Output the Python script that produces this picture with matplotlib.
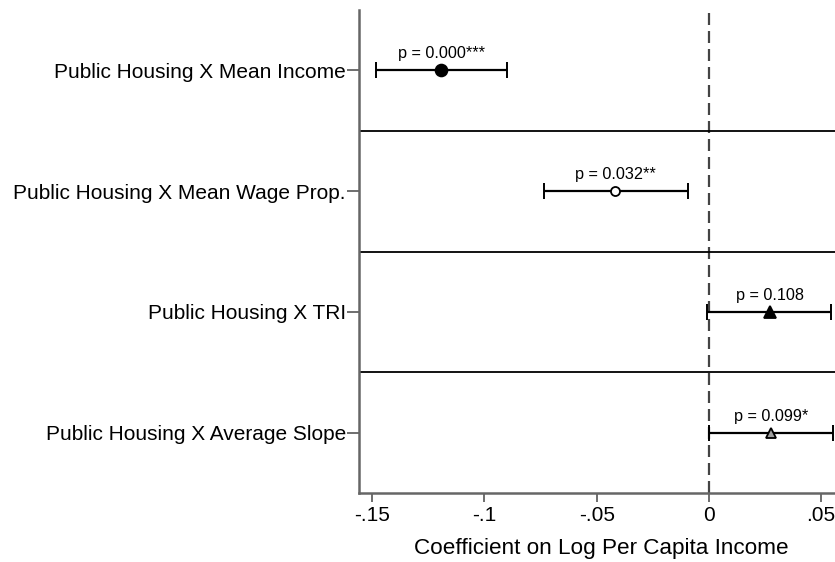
import matplotlib
matplotlib.use("Agg")
import matplotlib.pyplot as plt

# Interaction terms, point estimates and 90% confidence bounds
terms = ["Public Housing X Mean Income",
         "Public Housing X Mean Wage Prop.",
         "Public Housing X TRI",
         "Public Housing X Average Slope"]
coef = [-0.1193, -0.0416, 0.0273, 0.0277]
ci_low = [-0.1484, -0.0733, -0.0006, 0.0001]
ci_high = [-0.0901, -0.0095, 0.0546, 0.0555]
p_labels = ["p = 0.000***", "p = 0.032**", "p = 0.108", "p = 0.099*"]
xticks = [-0.15, -0.10, -0.05, 0.0, 0.05]
xtick_labels = ["-.15", "-.1", "-.05", "0", ".05"]

markers = ["o", "o", "^", "^"]
faces = ["black", "white", "black", "#a0a0a0"]
msizes = [8.5, 6.5, 8.5, 7.5]

plt.rcParams["font.family"] = ["Liberation Sans", "DejaVu Sans"]

W, H = 835, 562
fig = plt.figure(figsize=(W / 100, H / 100), dpi=100)
left_px, right_px, top_px, bottom_px = 359, 843, 10, 493
ax = fig.add_axes([left_px / W, 1 - bottom_px / H,
                   (right_px - left_px) / W, (bottom_px - top_px) / H])

rows = list(range(1, len(terms) + 1))
for r, c, lo, hi, m, fc, ms, lab in zip(rows, coef, ci_low, ci_high,
                                        markers, faces, msizes, p_labels):
    ax.errorbar([c], [r], xerr=[[c - lo], [hi - c]], fmt="none",
                ecolor="black", elinewidth=1.6, capsize=5.5, capthick=1.4,
                zorder=3)
    ax.plot([c], [r], marker=m, markersize=ms, markerfacecolor=fc,
            markeredgecolor="black", markeredgewidth=1.3, linestyle="none",
            zorder=4)
    ax.text(c, r - 0.1, lab, ha="center", va="baseline", fontsize=11.7,
            zorder=5)

# panel separators between coefficients
for s in [1.5, 2.5, 3.5]:
    ax.axhline(s, color="black", linewidth=1.3, zorder=2)

ax.axvline(0, color="#444444", linewidth=1.6, linestyle=(0, (5.4, 2.7)),
           zorder=1)

ax.set_ylim(4.5, 0.5)
ax.set_xlim(-0.1559, (right_px - 708.7) / 2246)
ax.set_yticks(rows)
ax.set_yticklabels(terms, fontsize=15)
ax.set_xticks(xticks)
ax.set_xticklabels(xtick_labels, fontsize=15)
ax.set_xlabel("Coefficient on Log Per Capita Income", fontsize=16.2,
              labelpad=9)

for side in ["top", "right"]:
    ax.spines[side].set_visible(False)
for side in ["left", "bottom"]:
    ax.spines[side].set_color("#666666")
    ax.spines[side].set_linewidth(1.8)
ax.tick_params(axis="y", length=8.5, width=1.2, color="#555555", pad=1)
ax.tick_params(axis="x", length=6.5, width=1.2, color="#555555", pad=3)

fig.savefig("out.png", dpi=100)
